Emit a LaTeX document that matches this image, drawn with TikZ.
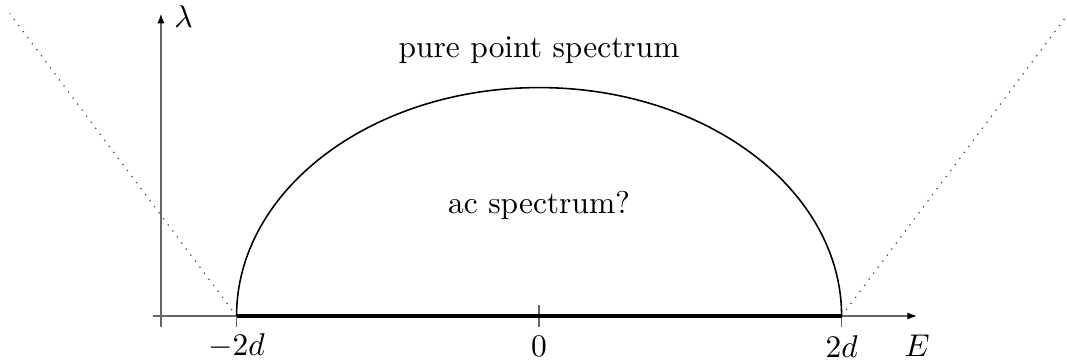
\documentclass[tikz,border=0pt]{standalone}
\usepackage{amsmath,amssymb}
\usetikzlibrary{arrows.meta}
\tikzset{
  sp axis/.style={-{Latex[length=1.1mm, width=0.8mm, black]}, draw=black!60, line width=0.5pt},
  sp tick/.style={draw=black!60, line width=0.5pt},
  sp band/.style={line width=1.3pt},
  sp edge/.style={draw=black, line width=0.5pt},
  sp guide/.style={dotted, draw=black!70}
}
\begin{document}
\begin{tikzpicture}[x=1.69cm,y=1.69cm]
\useasboundingbox (-3.564,-0.304) rectangle (3.49,2.089);
\coordinate (lo) at (-2,0);
\coordinate (hi) at (2,0);
\coordinate (origin) at (0,0);
\coordinate (xstart) at (-2.55,0);
\coordinate (xend) at (2.5,0);
\coordinate (ystart) at (-2.5,-0.07);
\coordinate (yend) at (-2.5,2.0);
\coordinate (guideL) at (-3.5,2);
\coordinate (guideR) at (3.5,2);
% axes
\draw[sp axis] (xstart) -- (xend);
\draw[sp axis] (ystart) -- (yend);
\draw[sp tick] (0,0.07) -- (0,-0.07);
\draw[sp tick] (lo) -- ++(0,-0.07);
\draw[sp tick] (hi) -- ++(0,-0.07);
% spectrum
\draw[sp guide] (lo) -- (guideL);
\draw[sp guide] (hi) -- (guideR);
\draw[sp band] (lo) -- (hi);
\draw[sp edge] (lo) arc[start angle=180, end angle=0, x radius=2, y radius=1.51];
% labels
\node (tlo) at (-2,-0.2) {$-2d$};
\node (tzero) at (0,-0.2) {$0$};
\node (thi) at (2,-0.2) {$2d$};
\node (elab) at (2.5,-0.2) {$E$};
\node (llab) at (-2.35,1.98) {$\lambda$};
\node (pp) at (0,1.76) {pure point spectrum};
\node (ac) at (0,0.73) {ac spectrum?};
\end{tikzpicture}
\end{document}
